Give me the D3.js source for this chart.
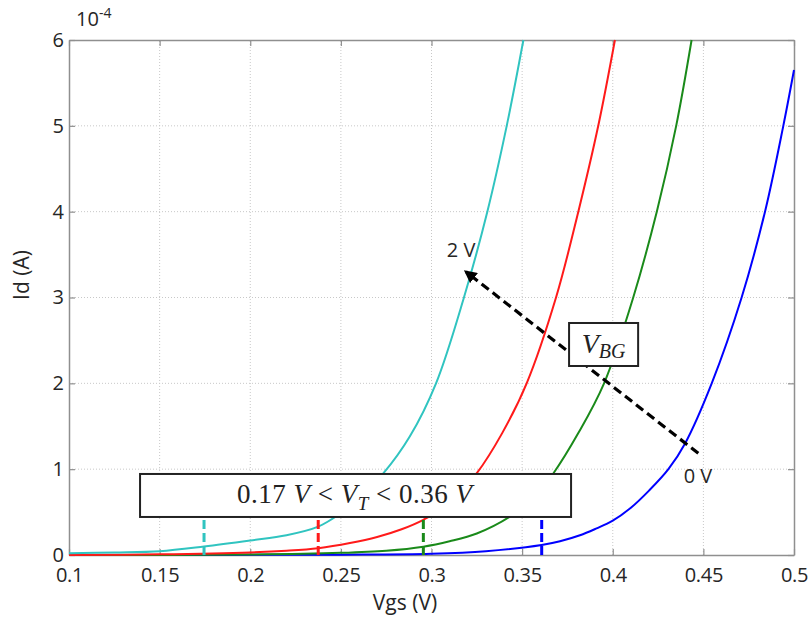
<!DOCTYPE html>
<html><head><meta charset="utf-8">
<script src="https://cdn.jsdelivr.net/npm/d3@7/dist/d3.min.js"></script>
<style>body{margin:0;background:#fff}svg{display:block}</style>
</head><body>
<svg id="c" width="810" height="620"></svg>
<script>
// ---- data (Id in units of 1e-4 A) ----
const xTicks = [0.1,0.15,0.2,0.25,0.3,0.35,0.4,0.45,0.5];
const xTickLabels = ["0.1","0.15","0.2","0.25","0.3","0.35","0.4","0.45","0.5"];
const yTicks = [0,1,2,3,4,5,6];
const yTickLabels = ["0","1","2","3","4","5","6"];

// VBG = 0 V (blue)
const vgs_0V = [0.10,0.25,0.30,0.33,0.3608,0.3709,0.3819,0.39,0.40,0.41,0.42,0.4307,0.4399,0.4546,0.4711,0.484,0.4941,0.50];
const id_0V  = [0.0,0.004,0.015,0.045,0.117,0.16,0.23,0.30,0.40,0.55,0.75,1.0,1.3,2.0,3.0,4.0,5.0,5.65];
// green
const vgs_g = [0.10,0.20,0.25,0.275,0.2955,0.31,0.325,0.3433,0.356,0.3672,0.381,0.3952,0.4113,0.4243,0.435,0.4435];
const id_g  = [0.0,0.005,0.025,0.05,0.097,0.16,0.25,0.447,0.66,0.95,1.42,2.0,3.0,4.0,5.0,6.0];
// red
const vgs_r = [0.10,0.15,0.20,0.22,0.2375,0.255,0.27,0.2835,0.2955,0.31,0.3249,0.339,0.3525,0.3687,0.381,0.392,0.4012];
const id_r  = [0.0,0.008,0.03,0.05,0.08,0.14,0.21,0.30,0.41,0.60,0.95,1.42,2.0,3.0,4.0,5.0,6.0];
// VBG = 2 V (cyan)
const vgs_2V = [0.10,0.125,0.15,0.1745,0.20,0.22,0.2375,0.2495,0.26,0.2734,0.288,0.3025,0.3179,0.3308,0.3415,0.3507];
const id_2V  = [0.02,0.03,0.045,0.10,0.17,0.23,0.33,0.48,0.66,0.95,1.38,2.0,3.0,4.0,5.0,6.0];

const seriesColors = ["#0000ff","#1a8a1a","#ff1a1a","#30c4c0"];
const vtValues = [0.1745,0.2375,0.2955,0.3608];
const vtColors = ["#30c4c0","#ff1a1a","#1a8a1a","#0000ff"];

// ---- layout ----
const svg = d3.select("#c");
const x = d3.scaleLinear().domain([0.1,0.5]).range([69,794]);
const y = d3.scaleLinear().domain([0,6]).range([555,40]);
const font = "'Open Sans', sans-serif";
const txt = "#262626";
const axisCol = "#8f8f8f";

// grid
const grid = svg.append("g");
grid.selectAll(".gx").data(xTicks.slice(1,-1)).join("line")
  .attr("x1",d=>x(d)).attr("x2",d=>x(d)).attr("y1",y(0)).attr("y2",y(6))
  .attr("stroke","#c8c8c8").attr("stroke-width",1).attr("stroke-dasharray","1,2");
grid.selectAll(".gy").data(yTicks.slice(1,-1)).join("line")
  .attr("y1",d=>y(d)).attr("y2",d=>y(d)).attr("x1",x(0.1)).attr("x2",x(0.5))
  .attr("stroke","#c8c8c8").attr("stroke-width",1).attr("stroke-dasharray","1,2");

// axes (inward ticks)
const axB = svg.append("g").attr("transform",`translate(0,${y(0)})`)
  .call(d3.axisBottom(x).tickValues(xTicks).tickFormat((d,i)=>xTickLabels[i]).tickSizeInner(-6).tickSizeOuter(0).tickPadding(13));
const axT = svg.append("g").attr("transform",`translate(0,${y(6)})`)
  .call(d3.axisTop(x).tickValues(xTicks).tickFormat("").tickSizeInner(-6).tickSizeOuter(0));
const axL = svg.append("g").attr("transform",`translate(${x(0.1)},0)`)
  .call(d3.axisLeft(y).tickValues(yTicks).tickFormat((d,i)=>yTickLabels[i]).tickSizeInner(-6).tickSizeOuter(0).tickPadding(5));
const axR = svg.append("g").attr("transform",`translate(${x(0.5)},0)`)
  .call(d3.axisRight(y).tickValues(yTicks).tickFormat("").tickSizeInner(-6).tickSizeOuter(0));
[axB,axT,axL,axR].forEach(a=>{
  a.select(".domain").attr("stroke",axisCol).attr("stroke-width",1.5);
  a.selectAll(".tick line").attr("stroke",axisCol).attr("stroke-width",1.2);
  a.selectAll("text").attr("fill",txt).style("font-family",font).style("font-size","20px");
});
axB.selectAll("text").attr("letter-spacing","-0.3px");

// curves
const line = d3.line().x(d=>x(d[0])).y(d=>y(d[1])).curve(d3.curveCatmullRom.alpha(0.5));
const series = [[vgs_0V,id_0V],[vgs_g,id_g],[vgs_r,id_r],[vgs_2V,id_2V]];
const cg = svg.append("g");
series.forEach((s,i)=>{
  cg.append("path").datum(s[0].map((v,j)=>[v,s[1][j]]))
    .attr("d",line).attr("fill","none").attr("stroke",seriesColors[i]).attr("stroke-width",2);
});

// VT dashed markers
svg.append("g").selectAll("line").data(vtValues).join("line")
  .attr("x1",d=>x(d)).attr("x2",d=>x(d)).attr("y1",y(0)).attr("y2",y(0.45))
  .attr("stroke",(d,i)=>vtColors[i]).attr("stroke-width",3).attr("stroke-dasharray","9,4");

// VT box
const mfont = "'Liberation Serif','DejaVu Serif',serif";
const b1 = {v0:0.1392,v1:0.3770,i0:0.443,i1:0.944};
svg.append("rect").attr("x",x(b1.v0)).attr("y",y(b1.i1)).attr("width",x(b1.v1)-x(b1.v0)).attr("height",y(b1.i0)-y(b1.i1))
  .attr("fill","#fff").attr("stroke","#222").attr("stroke-width",2);
const t1 = svg.append("text").attr("x",237).attr("y",y(b1.i1)+29)
  .attr("textLength",235).attr("lengthAdjust","spacing")
  .style("font-family",mfont).style("font-size","27px").attr("fill","#222");
t1.append("tspan").text("0.17 ");
t1.append("tspan").text("V").style("font-style","italic");
t1.append("tspan").text(" < ");
t1.append("tspan").text("V").style("font-style","italic");
t1.append("tspan").text("T").style("font-style","italic").style("font-size","19px").attr("dy",7);
t1.append("tspan").text(" < 0.36 ").attr("dy",-7);
t1.append("tspan").text("V").style("font-style","italic");

// arrow
svg.append("defs").append("marker").attr("id","ah").attr("viewBox","0 0 10 10")
  .attr("refX",8).attr("refY",5).attr("markerWidth",4).attr("markerHeight",4).attr("orient","auto")
  .append("path").attr("d","M0,0L10,5L0,10z").attr("fill","#000");
svg.append("line").attr("x1",x(0.4472)).attr("y1",y(1.185)).attr("x2",x(0.3190)).attr("y2",y(3.30))
  .attr("stroke","#000").attr("stroke-width",3.2).attr("stroke-dasharray","9,5").attr("marker-end","url(#ah)");

// VBG box
const b2 = {v0:0.3759,v1:0.4140,i0:2.202,i1:2.703};
svg.append("rect").attr("x",x(b2.v0)).attr("y",y(b2.i1)).attr("width",x(b2.v1)-x(b2.v0)).attr("height",y(b2.i0)-y(b2.i1))
  .attr("fill","#fff").attr("stroke","#222").attr("stroke-width",2);
const t2 = svg.append("text").attr("x",(x(b2.v0)+x(b2.v1))/2).attr("y",y(b2.i1)+30)
  .attr("text-anchor","middle").style("font-family",mfont).style("font-size","28px").attr("fill","#222");
t2.append("tspan").text("V").style("font-style","italic");
t2.append("tspan").text("BG").style("font-style","italic").style("font-size","20px").attr("dy",5);

// labels 2 V / 0 V
svg.append("text").attr("x",x(0.3163)).attr("y",y(3.55)+7).attr("text-anchor","middle")
  .style("font-family",font).style("font-size","20px").attr("fill",txt).text("2 V");
svg.append("text").attr("x",x(0.447)).attr("y",y(0.92)+7).attr("text-anchor","middle")
  .style("font-family",font).style("font-size","20px").attr("fill",txt).text("0 V");

// exponent
const ex = svg.append("text").attr("x",76).attr("y",26).style("font-family",font).style("font-size","20px").attr("fill",txt);
ex.append("tspan").text("10");
ex.append("tspan").text("-4").style("font-size","14px").attr("dy",-8);

// axis titles
svg.append("text").attr("x",405).attr("y",610).attr("text-anchor","middle")
  .style("font-family",font).style("font-size","21px").attr("fill",txt).text("Vgs (V)");
svg.append("text").attr("transform",`translate(29,275) rotate(-90)`).attr("text-anchor","middle")
  .style("font-family",font).style("font-size","21px").attr("fill",txt).text("Id (A)");
</script>
</body></html>
